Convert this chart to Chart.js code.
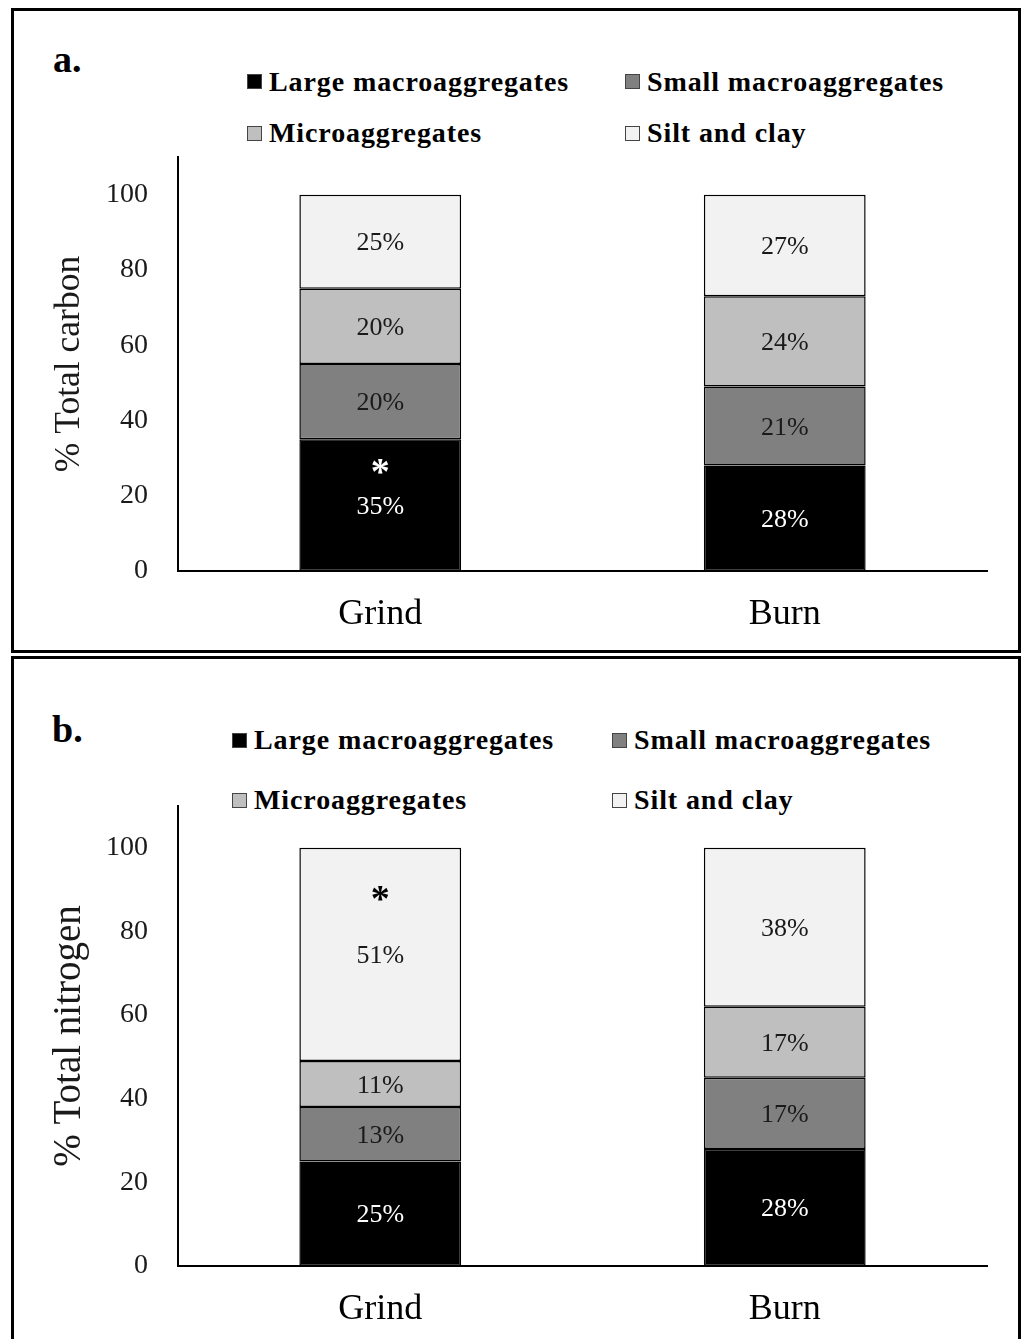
<!DOCTYPE html>
<html>
<head>
<meta charset="utf-8">
<script src="https://cdn.jsdelivr.net/npm/chart.js@4.4.0/dist/chart.umd.min.js"></script>
<style>
  html, body { margin:0; padding:0; background:#fff; width:1027px; height:1339px; overflow:hidden; position:relative;
    font-family:"Liberation Serif","Times New Roman",serif; }
  .panel { position:absolute; left:11px; width:1004px; border:3px solid #000; }
  #panelA { top:8px; height:639px; }
  #panelB { top:656px; height:700px; }
  .tag { position:absolute; font-weight:bold; font-size:38px; line-height:1; }
  .leg { position:absolute; display:flex; align-items:center; font-weight:bold; font-size:28px; line-height:28px; height:28px; white-space:nowrap; color:#000; letter-spacing:0.9px; }
  .leg .box { width:13px; height:13px; border:1px solid #444; margin-right:7px; flex:none; }
  canvas { position:absolute; }
</style>
</head>
<body>
<div class="panel" id="panelA"></div>
<div class="panel" id="panelB"></div>
<div class="tag" style="left:53px; top:40px;">a.</div>
<div class="tag" style="left:52px; top:710px;">b.</div>
<div id="legendA"></div>
<div id="legendB"></div>
<canvas id="chartA" width="1004" height="500" style="left:14px; top:150px;"></canvas>
<canvas id="chartB" width="1004" height="549" style="left:14px; top:790px;"></canvas>
<script>
// ---- data ----
const categories = ['Grind', 'Burn'];
const seriesNames = ['Large macroaggregates', 'Small macroaggregates', 'Microaggregates', 'Silt and clay'];
const yTickValues = [0, 20, 40, 60, 80, 100];

const carbonLarge = [35, 28];
const carbonSmall = [20, 21];
const carbonMicro = [20, 24];
const carbonSilt  = [25, 27];

const nitrogenLarge = [25, 28];
const nitrogenSmall = [13, 17];
const nitrogenMicro = [11, 17];
const nitrogenSilt  = [51, 38];

// significance marks: series index, category index, y value where the asterisk sits
const carbonStar   = { series: 0, category: 0, value: 27.7 };
const nitrogenStar = { series: 3, category: 0, value: 89.1 };

// ---- styles ----
const seriesColors = ['#000000', '#808080', '#bfbfbf', '#f2f2f2'];
const labelColors  = ['#ffffff', '#1a1a1a', '#1a1a1a', '#1a1a1a'];
const starColors   = ['#ffffff', '#000000', '#000000', '#000000'];

function buildLegend(id, rows, cols) {
  const host = document.getElementById(id);
  seriesNames.forEach((name, i) => {
    const d = document.createElement('div');
    d.className = 'leg';
    d.style.left = cols[i % 2] + 'px';
    d.style.top = (rows[Math.floor(i / 2)] - 14) + 'px';
    const b = document.createElement('span');
    b.className = 'box';
    b.style.background = seriesColors[i];
    d.appendChild(b);
    d.appendChild(document.createTextNode(name));
    host.appendChild(d);
  });
}
buildLegend('legendA', [81.5, 133], [247, 625]);
buildLegend('legendB', [740, 800], [232, 612]);

const segLabels = {
  id: 'segLabels',
  afterDatasetsDraw(chart, args, opts) {
    const ctx = chart.ctx;
    ctx.save();
    ctx.textAlign = 'center';
    ctx.textBaseline = 'alphabetic';
    chart.data.datasets.forEach((ds, di) => {
      const meta = chart.getDatasetMeta(di);
      meta.data.forEach((bar, i) => {
        const txt = ds.data[i] + '%';
        ctx.font = '26px "Liberation Serif"';
        ctx.fillStyle = labelColors[di];
        const m = ctx.measureText(txt);
        const cy = (bar.y + bar.base) / 2;
        ctx.fillText(txt, bar.x, cy + (m.actualBoundingBoxAscent - m.actualBoundingBoxDescent) / 2);
      });
    });
    const s = opts.star;
    if (s) {
      const bar = chart.getDatasetMeta(s.series).data[s.category];
      const y = chart.scales.y.getPixelForValue(s.value);
      ctx.font = 'bold 38px "Liberation Serif"';
      ctx.fillStyle = starColors[s.series];
      const m = ctx.measureText('*');
      ctx.fillText('*', bar.x, y + (m.actualBoundingBoxAscent - m.actualBoundingBoxDescent) / 2);
    }
    ctx.restore();
  }
};

function makeChart(id, values, yTitle, star, padTop, xHeight, titleSize) {
  new Chart(document.getElementById(id), {
    type: 'bar',
    data: {
      labels: categories,
      datasets: values.map((v, i) => ({
        label: seriesNames[i],
        data: v,
        backgroundColor: seriesColors[i],
        borderColor: '#000',
        borderWidth: 1.5,
        borderSkipped: false,
        categoryPercentage: 1.0,
        barPercentage: 0.4
      }))
    },
    options: {
      responsive: false,
      animation: false,
      events: [],
      layout: { padding: { left: 0, right: 31, top: padTop, bottom: 0 } },
      plugins: { legend: { display: false }, tooltip: { enabled: false }, segLabels: { star: star } },
      scales: {
        x: {
          stacked: true,
          grid: { display: false, drawTicks: false },
          border: { display: true, color: '#000', width: 2 },
          ticks: { color: '#000', padding: 22, font: { family: '"Liberation Serif"', size: 36 } },
          afterFit(scale) { scale.height = xHeight; scale.paddingLeft = 0; scale.paddingRight = 0; }
        },
        y: {
          stacked: true,
          min: 0, max: 110,
          grid: { display: false, drawTicks: false },
          border: { display: true, color: '#000', width: 2 },
          ticks: { color: '#1a1a1a', padding: 30, font: { family: '"Liberation Serif"', size: 28 } },
          afterBuildTicks(scale) { scale.ticks = yTickValues.map(v => ({ value: v })); },
          afterFit(scale) { scale.width = 164; scale.paddingTop = 0; scale.paddingBottom = 0; },
          title: { display: true, text: yTitle, color: '#1a1a1a', padding: { top: 56 - titleSize * 0.6, bottom: 0 },
                   font: { family: '"Liberation Serif"', size: titleSize } }
        }
      }
    },
    plugins: [segLabels]
  });
}

makeChart('chartA', [carbonLarge, carbonSmall, carbonMicro, carbonSilt], '% Total carbon', carbonStar, 7, 79, 35.5);
makeChart('chartB', [nitrogenLarge, nitrogenSmall, nitrogenMicro, nitrogenSilt], '% Total nitrogen', nitrogenStar, 16, 73, 39);
</script>
</body>
</html>
